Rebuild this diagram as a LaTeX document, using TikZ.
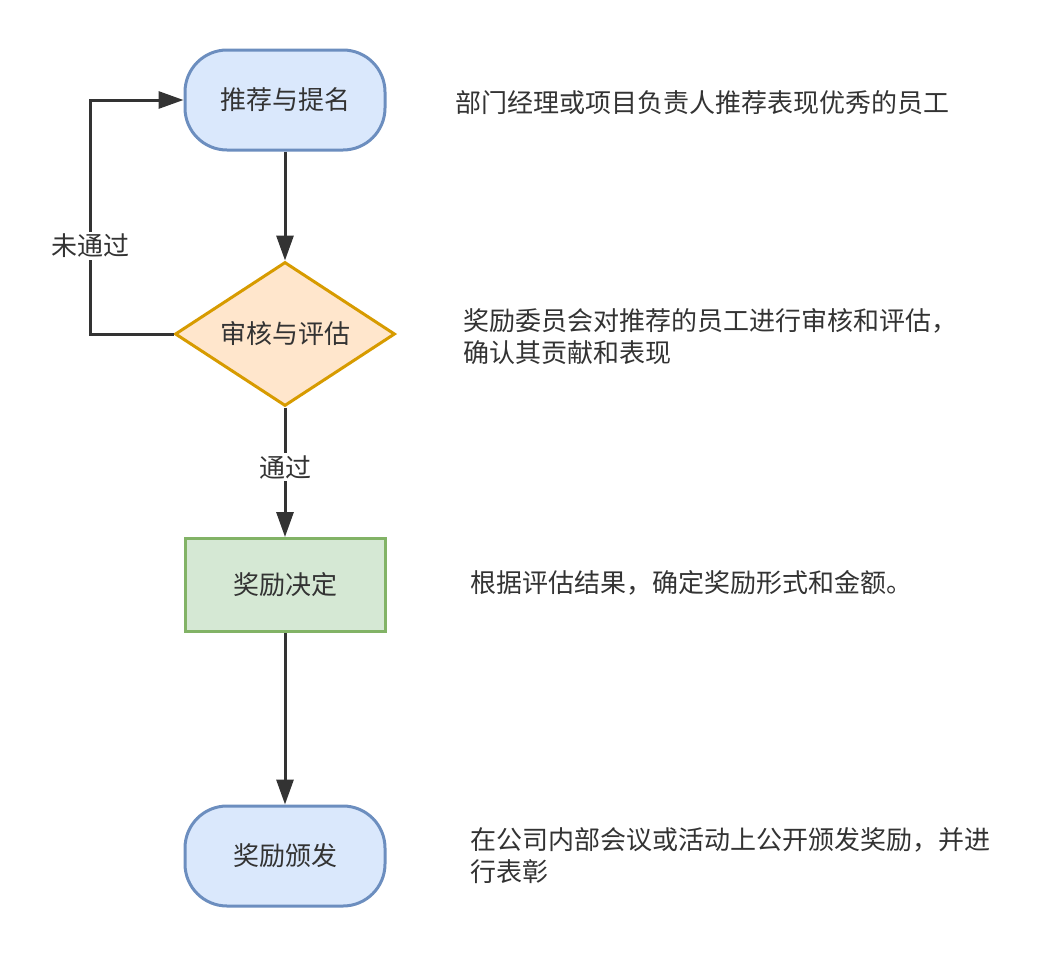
\documentclass[tikz,border=0pt]{standalone}
\usepackage{fontspec}
\setmainfont{Noto Sans CJK SC}
\usetikzlibrary{shapes.geometric,arrows.meta}
\definecolor{txt}{HTML}{333333}
\definecolor{bluef}{HTML}{DAE8FC}
\definecolor{blued}{HTML}{6C8EBF}
\definecolor{orangef}{HTML}{FFE6CC}
\definecolor{oranged}{HTML}{D79B00}
\definecolor{greenf}{HTML}{D5E8D4}
\definecolor{greend}{HTML}{82B366}
\definecolor{edgec}{HTML}{333333}
\tikzset{
  base/.style={line width=3pt, text=txt, font=\fontsize{26}{31}\selectfont, inner sep=0pt},
  terminal/.style={base, draw=blued, fill=bluef, rounded corners=42pt, minimum width=200pt, minimum height=100pt},
  decision/.style={base, diamond, draw=oranged, fill=orangef, minimum width=220pt, minimum height=144pt, aspect=1.53},
  process/.style={base, draw=greend, fill=greenf, minimum width=200pt, minimum height=93pt},
  desc/.style={text=txt, font=\fontsize{26}{32}\selectfont, inner sep=0pt, anchor=west, align=left},
  conn/.style={line width=3pt, draw=edgec, -{Triangle[length=25pt,width=17pt]}},
  lbl/.style={fill=white, text=txt, font=\fontsize{26}{31}\selectfont, inner sep=2pt}
}
\begin{document}
\begin{tikzpicture}[x=1pt,y=-1pt]
\useasboundingbox (0,0) rectangle (1041,956);
\node[terminal] (n1) at (285,100) {推荐与提名};
\node[decision] (d) at (285,334) {审核与评估};
\node[process] (n3) at (285,585) {奖励决定};
\node[terminal] (n4) at (285,856) {奖励颁发};
\coordinate (c1) at (90,334);
\coordinate (c2) at (90,100);
\draw[conn] (n1.south) -- (d.north);
\draw[conn] (d.south) -- node[lbl,pos=0.46] {通过} (n3.north);
\draw[conn] (n3.south) -- (n4.north);
\draw[conn] (d.west) -- (c1) -- node[lbl,pos=0.376] {未通过} (c2) -- (n1.west);
\node[desc] (t1) at (455,103) {部门经理或项目负责人推荐表现优秀的员工};
\node[desc] (t2) at (463,337) {奖励委员会对推荐的员工进行审核和评估，\\确认其贡献和表现};
\node[desc] (t3) at (470,583) {根据评估结果，确定奖励形式和金额。};
\node[desc] (t4) at (470,856) {在公司内部会议或活动上公开颁发奖励，并进\\行表彰};
\end{tikzpicture}
\end{document}
